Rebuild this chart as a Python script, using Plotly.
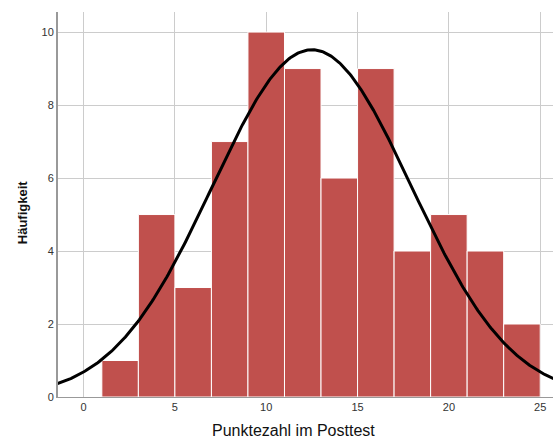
import numpy as np
import plotly.graph_objects as go

bin_centers = [2, 4, 6, 8, 10, 12, 14, 16, 18, 20, 22, 24]
counts = [1, 5, 3, 7, 10, 9, 6, 9, 4, 5, 4, 2]
bin_width = 2
curve_mean = 12.5
curve_sd = 5.45
n_total = sum(counts)
x_ticks = [0, 5, 10, 15, 20, 25]
y_ticks = [0, 2, 4, 6, 8, 10]

xs = np.linspace(-1.5, 26, 400)
ys = n_total * bin_width / (curve_sd * np.sqrt(2 * np.pi)) * np.exp(-0.5 * ((xs - curve_mean) / curve_sd) ** 2)

fig = go.Figure()
fig.add_trace(go.Bar(x=bin_centers, y=counts, width=bin_width,
                     marker=dict(color="#C0504D", line=dict(color="white", width=1)),
                     hoverinfo="skip"))
fig.add_trace(go.Scatter(x=xs, y=ys, mode="lines", line=dict(color="black", width=3), hoverinfo="skip"))

fig.update_layout(
    width=553, height=438,
    margin=dict(l=58, r=0, t=12, b=41, autoexpand=False),
    plot_bgcolor="white", paper_bgcolor="white",
    showlegend=False,
    font=dict(family="Arial, Liberation Sans, sans-serif", color="#333333"),
    xaxis=dict(range=[-1.4, 25.7], tickvals=x_ticks, showgrid=True, gridcolor="#cccccc", gridwidth=1,
               zeroline=False, showline=True, linecolor="#999999", linewidth=1, automargin=False,
               ticks="", tickfont=dict(size=11, color="#333333")),
    yaxis=dict(range=[0, 10.55], tickvals=y_ticks, showgrid=True, gridcolor="#cccccc", gridwidth=1,
               zeroline=False, showline=True, linecolor="#999999", linewidth=2, automargin=False,
               ticks="", tickfont=dict(size=11, color="#333333")),
    annotations=[
        dict(text="Punktezahl im Posttest", xref="paper", yref="paper", x=0.475, y=0, yshift=-33,
             showarrow=False, xanchor="center", yanchor="middle", font=dict(size=16, color="#111111")),
        dict(text="<b>Häufigkeit</b>", xref="paper", yref="paper", x=0, xshift=-36, y=0.48,
             showarrow=False, textangle=-90, xanchor="center", yanchor="middle",
             font=dict(size=13, color="#111111")),
    ],
)
fig.write_html("out.html", config={"displayModeBar": False},
               post_script="document.body.style.margin='0';document.body.style.overflow='hidden';")
